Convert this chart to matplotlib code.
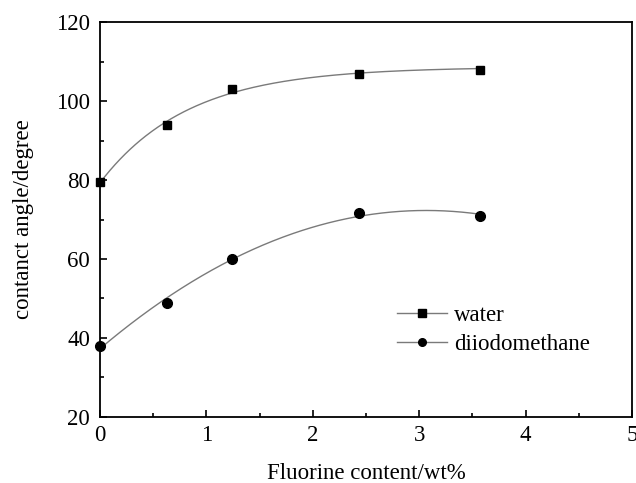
import matplotlib.pyplot as plt
import numpy as np
from matplotlib.ticker import MultipleLocator

# measured contact angles vs. fluorine content
fluorine = [0.0, 0.63, 1.24, 2.43, 3.57]
water = [79.5, 93.9, 103.2, 107.0, 108.0]
diiodomethane = [38.0, 48.9, 59.9, 71.6, 71.0]

x_ticks = [0, 1, 2, 3, 4, 5]
y_ticks = [20, 40, 60, 80, 100, 120]

plt.rcParams["font.family"] = ["Liberation Serif", "DejaVu Serif"]

FS = 16.5


def fit_exp_rise(x, y):
    """y = a - b*exp(-x/t), grid search over t with linear least squares for a, b"""
    x = np.asarray(x)
    y = np.asarray(y)
    best = None
    for t in np.linspace(0.2, 3.0, 561):
        basis = np.column_stack([np.ones_like(x), -np.exp(-x / t)])
        coef, _, _, _ = np.linalg.lstsq(basis, y, rcond=None)
        err = np.sum((basis @ coef - y) ** 2)
        if best is None or err < best[0]:
            best = (err, coef[0], coef[1], t)
    _, a, b, t = best
    return lambda xx: a - b * np.exp(-xx / t)


xs = np.linspace(fluorine[0], fluorine[-1], 300)
water_fit = fit_exp_rise(fluorine, water)
diiodo_fit = np.poly1d(np.polyfit(fluorine, diiodomethane, 2))

fig = plt.figure(figsize=(6.36, 4.83), dpi=100)
ax = fig.add_axes([0.157, 0.137, 0.837, 0.817])

line_color = "#7a7a7a"
ax.plot(xs, water_fit(xs), color=line_color, lw=1.0, zorder=2)
ax.plot(xs, diiodo_fit(xs), color=line_color, lw=1.0, zorder=2)
ax.plot(fluorine, water, ls="none", marker="s", ms=6.3, color="black", zorder=3, clip_on=False)
ax.plot(fluorine, diiodomethane, ls="none", marker="o", ms=7, color="black", zorder=3, clip_on=False)

# legend handles: grey line with black marker
ax.plot([], [], color=line_color, lw=1.0, marker="s", ms=5.5, mfc="black", mec="black", label="water")
ax.plot([], [], color=line_color, lw=1.0, marker="o", ms=5.5, mfc="black", mec="black", label="diiodomethane")
ax.legend(loc="center left", bbox_to_anchor=(0.558, 0.219), frameon=False, fontsize=FS,
          handlelength=2.2, handletextpad=0.3, labelspacing=0.35, borderaxespad=0, borderpad=0)

ax.set_xlim(0, 5)
ax.set_ylim(20, 120)
ax.set_xticks(x_ticks)
ax.set_yticks(y_ticks)
ax.xaxis.set_minor_locator(MultipleLocator(0.5))
ax.yaxis.set_minor_locator(MultipleLocator(10))
ax.tick_params(which="both", direction="in", top=False, right=False, labelsize=FS, width=1.2)
ax.tick_params(which="major", length=5)
ax.tick_params(which="minor", length=3)
ax.tick_params(axis="x", pad=6)
ax.tick_params(axis="y", pad=7)
for sp in ax.spines.values():
    sp.set_linewidth(1.3)

ax.set_xlabel("Fluorine content/wt%", fontsize=FS, labelpad=12)
ax.set_ylabel("contanct angle/degree", fontsize=FS, labelpad=16)

fig.savefig("out.png", dpi=100)
